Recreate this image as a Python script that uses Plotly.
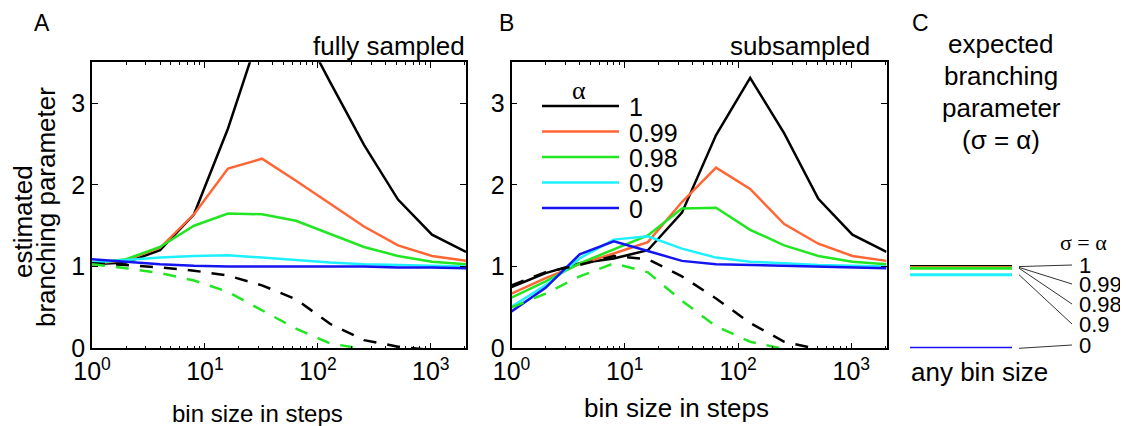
import math
import plotly.graph_objects as go

# ---------------- data ----------------
bins = [1, 2, 4, 8, 16, 32, 64, 128, 256, 512, 1024, 2048]
alphas = ["1", "0.99", "0.98", "0.9", "0"]
sigma_values = [1.0, 0.99, 0.98, 0.9, 0.0]
colors = ["#000000", "#FF6633", "#22E622", "#1EF0FF", "#1414F0"]

# panel A: fully sampled
A_1 = [1.03, 1.05, 1.20, 1.64, 2.69, 3.95, 4.05, 3.26, 2.49, 1.82, 1.39, 1.18]
A_099 = [1.03, 1.08, 1.23, 1.64, 2.20, 2.32, 2.05, 1.77, 1.49, 1.26, 1.13, 1.07]
A_098 = [1.04, 1.09, 1.24, 1.50, 1.65, 1.64, 1.56, 1.40, 1.24, 1.13, 1.06, 1.03]
A_09 = [1.05, 1.08, 1.11, 1.13, 1.14, 1.11, 1.08, 1.05, 1.03, 1.02, 1.01, 1.00]
A_0 = [1.09, 1.06, 1.03, 1.01, 1.00, 1.00, 1.00, 1.00, 1.00, 0.99, 0.99, 0.98]
A_1_dash = [1.04, 1.02, 0.99, 0.95, 0.89, 0.77, 0.60, 0.30, 0.10, 0.02, -0.02, -0.02]
A_098_dash = [1.03, 0.98, 0.92, 0.83, 0.69, 0.46, 0.24, 0.06, -0.01, -0.03, -0.03, -0.03]

# panel B: subsampled
B_1 = [0.75, 0.92, 1.04, 1.10, 1.20, 1.66, 2.61, 3.31, 2.63, 1.83, 1.39, 1.18]
B_099 = [0.67, 0.86, 1.03, 1.16, 1.30, 1.79, 2.21, 1.95, 1.52, 1.28, 1.13, 1.07]
B_098 = [0.62, 0.82, 1.04, 1.21, 1.38, 1.71, 1.72, 1.45, 1.26, 1.13, 1.06, 1.03]
B_09 = [0.51, 0.77, 1.10, 1.33, 1.37, 1.22, 1.11, 1.06, 1.04, 1.02, 1.01, 1.00]
B_0 = [0.45, 0.74, 1.15, 1.31, 1.19, 1.07, 1.03, 1.02, 1.01, 1.00, 0.99, 0.98]
B_1_dash = [0.77, 0.93, 1.02, 1.13, 1.09, 0.88, 0.61, 0.31, 0.08, -0.01, -0.03, -0.03]
B_098_dash = [0.50, 0.67, 0.88, 1.04, 0.93, 0.58, 0.27, 0.08, -0.01, -0.03, -0.03, -0.03]

x_tickvals = [1, 10, 100, 1000]
x_ticktext = ["10<sup>0</sup>", "10<sup>1</sup>", "10<sup>2</sup>", "10<sup>3</sup>"]
y_tickvals = [0, 1, 2, 3]
minor_vals = [m * 10 ** e for e in range(0, 4) for m in range(2, 10) if m * 10 ** e < 2048]

# ---------------- layout helpers ----------------
# The page body has an 8px margin, so the figure is 8px smaller and every
# position below is given in window pixels and shifted by that offset.
OFF = 8
W, H = 1128 - OFF, 426 - OFF
def px(x):
    return (x - OFF) / W
def py(y):
    return 1 - (y - OFF) / H

FONT = "Liberation Sans, Arial, sans-serif"
SERIF = "Liberation Serif, Times New Roman, serif"
YMAX = 3.5
ydom = [py(348.3), py(62.3)]
xdomA = [px(92), px(466)]
xdomB = [px(511.5), px(886.5)]
xdomC = [px(910), px(1012)]

fig = go.Figure()

LW = 2.5
DASH = "13px,11px"

def add_panel(series, dashes, xa, ya):
    for vals, c in zip(series, colors):
        fig.add_trace(go.Scatter(x=bins, y=vals, mode="lines", xaxis=xa, yaxis=ya,
                                 line=dict(color=c, width=LW), showlegend=False, hoverinfo="skip"))
    for vals, c in dashes:
        fig.add_trace(go.Scatter(x=bins, y=vals, mode="lines", xaxis=xa, yaxis=ya,
                                 line=dict(color=c, width=LW, dash=DASH), showlegend=False,
                                 hoverinfo="skip"))

add_panel([A_1, A_099, A_098, A_09, A_0], [(A_1_dash, colors[0]), (A_098_dash, colors[2])], "x", "y")
add_panel([B_1, B_099, B_098, B_09, B_0], [(B_1_dash, colors[0]), (B_098_dash, colors[2])], "x2", "y2")

# panel C: expected value, independent of bin size
for s, c in zip(sigma_values, colors):
    fig.add_trace(go.Scatter(x=[0, 1], y=[s, s], mode="lines", xaxis="x3", yaxis="y3",
                             line=dict(color=c, width=3), showlegend=False, hoverinfo="skip"))

def xaxis_def(dom, anchor):
    return dict(type="log", range=[0, math.log10(2048)], domain=dom, anchor=anchor,
                automargin=False,
                showline=True, linecolor="black", linewidth=1.5, mirror="allticks",
                ticks="inside", ticklen=6, tickwidth=1, tickcolor="black",
                tickmode="array", tickvals=x_tickvals, ticktext=x_ticktext,
                tickfont=dict(family=FONT, size=25, color="black"),
                minor=dict(tickmode="array", tickvals=minor_vals, ticks="inside",
                           ticklen=3, tickcolor="black", showgrid=False),
                showgrid=False, zeroline=False, fixedrange=True)

def yaxis_def(anchor):
    return dict(range=[0, YMAX], domain=ydom, anchor=anchor, automargin=False,
                showline=True, linecolor="black", linewidth=1.5, mirror="allticks",
                ticks="inside", ticklen=6, tickwidth=1, tickcolor="black",
                tickmode="array", tickvals=y_tickvals,
                tickfont=dict(family=FONT, size=25, color="black"),
                showgrid=False, zeroline=False, fixedrange=True)

shapes = []
annotations = []

def text(x, y, s, size=26, xanchor="center", yanchor="middle", family=FONT, angle=0):
    annotations.append(dict(x=px(x), y=py(y), xref="paper", yref="paper", text=s,
                            showarrow=False, xanchor=xanchor, yanchor=yanchor,
                            textangle=angle,
                            font=dict(family=family, size=size, color="black")))

# panel letters and titles
text(42, 23, "A", size=23)
text(506, 23, "B", size=23)
text(920, 23, "C", size=23)
text(467, 46, "fully sampled", size=26, xanchor="right")
text(872, 46, "subsampled", size=26, xanchor="right")
text(23, 222, "estimated", size=26, angle=-90)
text(46, 207, "branching parameter", size=26, angle=-90)
text(257, 413, "bin size in steps", size=24)
text(676, 408, "bin size in steps", size=26)

# legend in B
text(579, 90, "α", size=26, family=SERIF)
leg_y = [106, 131.5, 157, 182.5, 208]
for ly, c, a in zip(leg_y, colors, alphas):
    shapes.append(dict(type="line", xref="paper", yref="paper", x0=px(542), x1=px(619),
                       y0=py(ly), y1=py(ly), line=dict(color=c, width=2.5)))
    text(627, ly + 1, a, size=25, xanchor="left")

# panel C texts
for i, line in enumerate(["expected", "branching", "parameter", "(σ = α)"]):
    text(1001, 44 + i * 32, line, size=26)
text(979, 372, "any bin size", size=26)
text(1083, 242, "σ = α", size=22, family=SERIF)

# panel C connectors from each expected value to its label
label_y = [265, 284, 304, 324, 345]
for s, ly, a in zip(sigma_values, label_y, alphas):
    y0 = ydom[0] + s / YMAX * (ydom[1] - ydom[0])
    shapes.append(dict(type="line", xref="paper", yref="paper", x0=px(1019), x1=px(1072),
                       y0=y0, y1=py(ly), line=dict(color="#333333", width=1)))
    text(1077, ly, a, size=22, xanchor="left")

fig.update_layout(
    width=W, height=H, margin=dict(l=0, r=0, t=0, b=0, pad=0, autoexpand=False),
    paper_bgcolor="white", plot_bgcolor="white",
    xaxis=xaxis_def(xdomA, "y"), yaxis=yaxis_def("x"),
    xaxis2=xaxis_def(xdomB, "y2"), yaxis2=yaxis_def("x2"),
    xaxis3=dict(domain=xdomC, range=[0, 1], anchor="y3", visible=False, fixedrange=True,
                automargin=False),
    yaxis3=dict(domain=ydom, range=[0, YMAX], anchor="x3", visible=False, fixedrange=True,
                automargin=False),
    shapes=shapes, annotations=annotations, showlegend=False,
)

fig.write_html("out.html", config={"displayModeBar": False})
